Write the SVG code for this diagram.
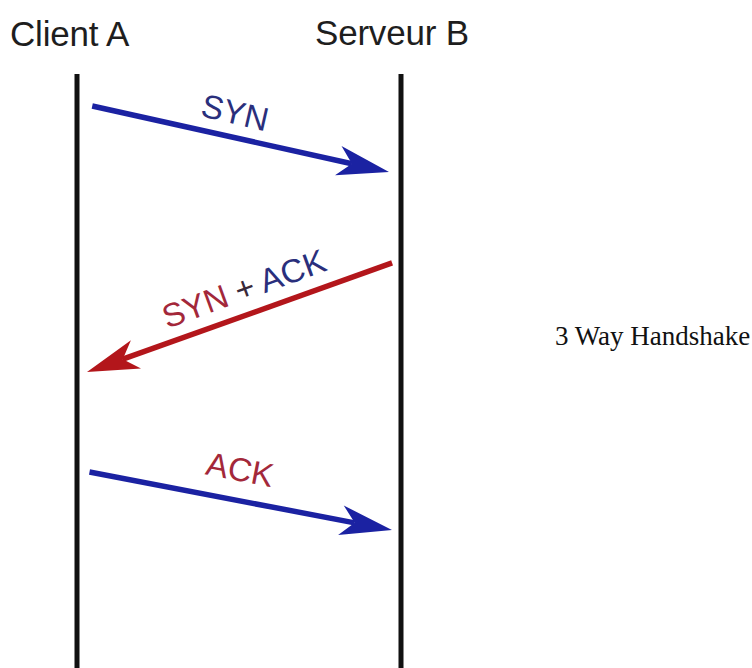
<svg xmlns="http://www.w3.org/2000/svg" width="752" height="668" viewBox="0 0 752 668">
<style>
.hdr{font-family:"Liberation Sans",Arial,sans-serif;font-size:35px;fill:#1e1e1e;letter-spacing:-0.2px}
.lbl{font-family:"Liberation Sans",Arial,sans-serif;font-size:33px;text-anchor:middle}
.life{stroke:#111;stroke-width:5;fill:none}
.blue{stroke:#1b22a2;fill:#1b22a2}
.red{stroke:#b3161b;fill:#b3161b}
.cap{font-family:"Liberation Serif","Times New Roman",serif;font-size:27px;fill:#111}
</style>
<defs>
<path id="head" d="M0,0 L-52,-15 L-38,0 L-52,15 Z" stroke="none"/>
</defs>
<rect width="752" height="668" fill="#fff"/>
<g id="clientA">
<text class="hdr" x="10" y="46">Client A</text>
<line class="life" x1="77" y1="74" x2="77" y2="668"/>
</g>
<g id="serveurB">
<text class="hdr" x="315" y="45">Serveur B</text>
<line class="life" x1="401" y1="74" x2="401" y2="668"/>
</g>
<g id="connectors">
<g id="syn" transform="translate(389,172) rotate(12.53)">
<line class="blue" x1="-304" y1="0" x2="-38" y2="0" stroke-width="5.5"/>
<use href="#head" class="blue"/>
</g>
<g id="synack" transform="translate(87,372) rotate(160.33)">
<line class="red" x1="-324" y1="0" x2="-38" y2="0" stroke-width="5.5"/>
<use href="#head" class="red"/>
</g>
<g id="ack" transform="translate(392,530) rotate(10.84)">
<line class="blue" x1="-308" y1="0" x2="-38" y2="0" stroke-width="5.5"/>
<use href="#head" class="blue"/>
</g>
<text class="lbl" transform="translate(235,113) rotate(13)" y="11" fill="#2a2f7c">SYN</text>
<text class="lbl" transform="translate(244,289) rotate(-20)" y="11" font-size="35"><tspan fill="#a3283a">SYN</tspan><tspan fill="#3a2a3a"> + </tspan><tspan fill="#2a2f7c">ACK</tspan></text>
<text class="lbl" transform="translate(240,470) rotate(11)" y="11" fill="#a3283a">ACK</text>
</g>
<text class="cap" x="555" y="345">3 Way Handshake</text>
</svg>
